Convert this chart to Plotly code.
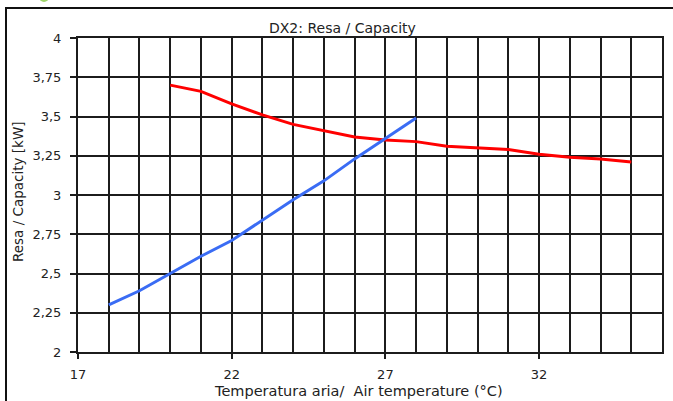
import plotly.graph_objects as go

# ---- data ----
red_x = [20, 21, 22, 23, 24, 25, 26, 27, 28, 29, 30, 31, 32, 33, 34, 35]
red_y = [3.70, 3.66, 3.58, 3.51, 3.45, 3.41, 3.37, 3.35, 3.34, 3.31, 3.30, 3.29, 3.26, 3.24, 3.23, 3.21]
blue_x = [18, 19, 20, 21, 22, 23, 24, 25, 26, 27, 28]
blue_y = [2.30, 2.39, 2.50, 2.61, 2.71, 2.84, 2.97, 3.09, 3.23, 3.36, 3.49]
y_tickvals = [2, 2.25, 2.5, 2.75, 3, 3.25, 3.5, 3.75, 4]
y_ticktext = ["2", "2,25", "2,5", "2,75", "3", "3,25", "3,5", "3,75", "4"]
x_tickvals = [17, 22, 27, 32]
x_ticktext = ["17", "22", "27", "32"]
title_text = "DX2: Resa / Capacity"
x_title = "Temperatura aria/  Air temperature (°C)"
y_title = "Resa / Capacity [kW]"

W, H = 673, 401
L, R, T, B = 78, 662, 38, 352


def px(xp):
    return (xp - L) / (R - L)


def py(yp):
    return (B - yp) / (B - T)


FONT = "DejaVu Sans"
GRID = "#1c1c1c"

fig = go.Figure()
fig.add_trace(go.Scatter(x=red_x, y=red_y, mode="lines",
                         line=dict(color="#ff0000", width=3), showlegend=False))
fig.add_trace(go.Scatter(x=blue_x, y=blue_y, mode="lines",
                         line=dict(color="#3a6cf4", width=3), showlegend=False))

fig.update_layout(
    width=W, height=H,
    margin=dict(l=L, r=W - R, t=T, b=H - B),
    paper_bgcolor="white", plot_bgcolor="white",
    font=dict(family=FONT, size=13, color="#222"),
    showlegend=False,
)
fig.update_xaxes(
    range=[17, 36], tickvals=x_tickvals, ticktext=x_ticktext,
    ticks="outside", ticklen=5, tickwidth=2, tickcolor=GRID,
    showgrid=True, gridcolor=GRID, gridwidth=2,
    minor=dict(dtick=1, tick0=17, showgrid=True, gridcolor=GRID, gridwidth=2, ticks=""),
    showline=True, mirror=True, linecolor=GRID, linewidth=2,
    zeroline=False, ticklabelstandoff=4, automargin=False,
    tickfont=dict(family=FONT, size=13, color="#222"),
)
fig.update_yaxes(
    range=[2, 4], tickvals=y_tickvals, ticktext=y_ticktext,
    ticks="outside", ticklen=6, tickwidth=2, tickcolor=GRID,
    showgrid=True, gridcolor=GRID, gridwidth=2,
    showline=True, mirror=True, linecolor=GRID, linewidth=2,
    zeroline=False, ticklabelstandoff=6, automargin=False,
    tickfont=dict(family=FONT, size=13, color="#222"),
)

fig.add_annotation(text=title_text, x=px(342), y=py(28), xref="paper", yref="paper",
                   showarrow=False, xanchor="center", yanchor="middle",
                   font=dict(family=FONT, size=14, color="#222"))
fig.add_annotation(text=x_title, x=px(358), y=py(391), xref="paper", yref="paper",
                   showarrow=False, xanchor="center", yanchor="middle",
                   font=dict(family=FONT, size=14.5, color="#222"))
fig.add_annotation(text=y_title, x=px(18), y=py(192), xref="paper", yref="paper",
                   showarrow=False, xanchor="center", yanchor="middle", textangle=-90,
                   font=dict(family=FONT, size=13.5, color="#222"))

# outer frame (left and top edges visible)
fig.add_shape(type="path", xref="paper", yref="paper",
              path=f"M {px(6)} {py(420)} L {px(6)} {py(8)} L {px(690)} {py(8)}",
              line=dict(color="#111", width=2))
# small green mark at top-left
fig.add_shape(type="circle", xref="paper", yref="paper",
              x0=px(39), x1=px(49), y0=py(2), y1=py(-8),
              fillcolor="#9fd46a", line=dict(width=0))

fig.write_html("out.html", config={"displayModeBar": False},
               post_script="document.body.style.margin='0';document.body.style.overflow='hidden';")
